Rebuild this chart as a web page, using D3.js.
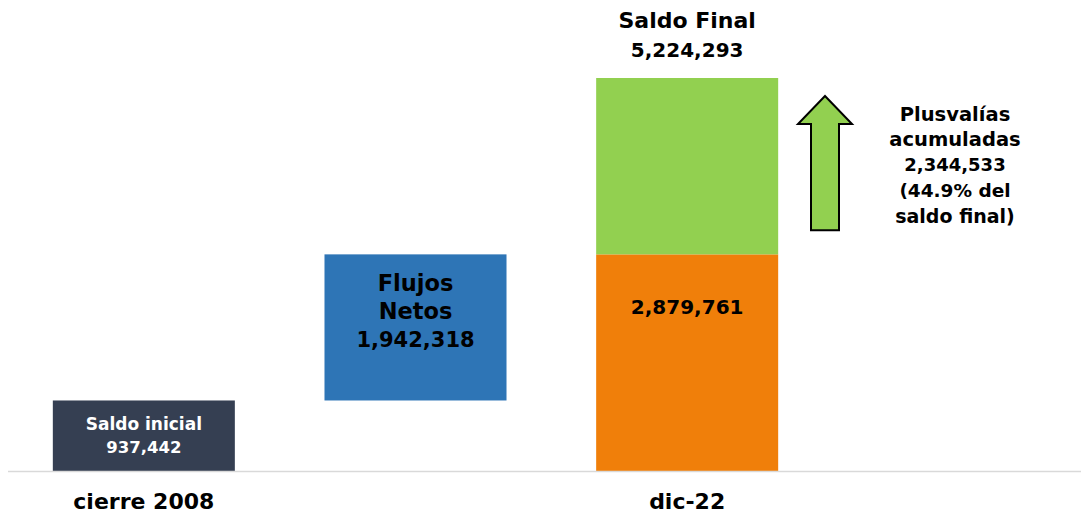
<!DOCTYPE html>
<html>
<head>
<meta charset="utf-8">
<script src="https://cdn.jsdelivr.net/npm/d3@7"></script>
<style>
  body { margin: 0; background: #fff; }
  text { font-family: "DejaVu Sans", "Open Sans", sans-serif; font-weight: bold; }
</style>
</head>
<body>
<svg id="chart" width="1083" height="516"></svg>
<script>
// data
var categories = ['cierre 2008', 'flujos', 'dic-22'];
var axisLabels = ['cierre 2008', '', 'dic-22'];
var saldoInicial = 937442;
var flujosNetos = 1942318;
var aportaciones = 2879761;
var plusvalias = 2344533;
var saldoFinal = 5224293;

var colors = {
  inicial: '#353f52',
  flujos: '#2e75b6',
  aport: '#f07f0a',
  plus: '#92d050'
};

var bars = [
  { cat: 'cierre 2008', y0: 0, y1: saldoInicial, color: colors.inicial },
  { cat: 'flujos', y0: saldoInicial, y1: saldoInicial + flujosNetos, color: colors.flujos },
  { cat: 'dic-22', y0: 0, y1: aportaciones, color: colors.aport },
  { cat: 'dic-22', y0: aportaciones, y1: saldoFinal, color: colors.plus }
];

var svg = d3.select('#chart');

var x = d3.scaleBand()
  .domain(categories)
  .range([8, 823])
  .paddingInner(0.33)
  .paddingOuter(0.165);

var y = d3.scaleLinear()
  .domain([0, saldoFinal])
  .range([471, 78]);

var fmt = d3.format(',');

svg.append('g')
  .selectAll('rect')
  .data(bars)
  .enter()
  .append('rect')
  .attr('x', function (d) { return x(d.cat); })
  .attr('width', x.bandwidth())
  .attr('y', function (d) { return y(d.y1); })
  .attr('height', function (d) { return y(d.y0) - y(d.y1); })
  .attr('fill', function (d) { return d.color; });

// baseline
svg.append('line')
  .attr('x1', 8).attr('x2', 1081)
  .attr('y1', y(0) + 0.5).attr('y2', y(0) + 0.5)
  .attr('stroke', '#d9d9d9')
  .attr('stroke-width', 1.5);

// category labels
svg.append('g')
  .selectAll('text')
  .data(categories)
  .enter()
  .append('text')
  .attr('x', function (d) { return x(d) + x.bandwidth() / 2; })
  .attr('y', 509)
  .attr('text-anchor', 'middle')
  .attr('font-size', 22)
  .attr('fill', '#000')
  .text(function (d, i) { return axisLabels[i]; });

// lines: [text, fontSize]
function multiline(cx, cy, lines, lh, fill) {
  var t = svg.append('text')
    .attr('text-anchor', 'middle')
    .attr('fill', fill);
  var top = cy - (lines.length - 1) * lh / 2;
  lines.forEach(function (l, i) {
    t.append('tspan')
      .attr('x', cx)
      .attr('y', top + i * lh)
      .attr('dy', '0.35em')
      .attr('font-size', l[1])
      .text(l[0]);
  });
}

var c1 = x('cierre 2008') + x.bandwidth() / 2,
    c2 = x('flujos') + x.bandwidth() / 2,
    c3 = x('dic-22') + x.bandwidth() / 2;

multiline(c1, (y(0) + y(saldoInicial)) / 2, [['Saldo inicial', 17], [fmt(saldoInicial), 16.5]], 23, '#fff');
multiline(c2, y(saldoInicial + flujosNetos) + 57, [['Flujos', 22.5], ['Netos', 22.5], [fmt(flujosNetos), 21]], 28, '#000');
multiline(c3, y(aportaciones) + 53, [[fmt(aportaciones), 20]], 28, '#000');
multiline(c3, y(saldoFinal) - 43, [['Saldo Final', 22], [fmt(saldoFinal), 20]], 29, '#000');

// arrow for plusvalias
var ax = 825,
    aTop = y(saldoFinal) + 18,
    aBot = y(aportaciones) - 24,
    headW = 27, shaftW = 14, headH = 28;
var arrow = d3.path();
arrow.moveTo(ax, aTop);
arrow.lineTo(ax + headW, aTop + headH);
arrow.lineTo(ax + shaftW, aTop + headH);
arrow.lineTo(ax + shaftW, aBot);
arrow.lineTo(ax - shaftW, aBot);
arrow.lineTo(ax - shaftW, aTop + headH);
arrow.lineTo(ax - headW, aTop + headH);
arrow.closePath();
svg.append('path')
  .attr('d', arrow.toString())
  .attr('fill', colors.plus)
  .attr('stroke', '#000')
  .attr('stroke-width', 2);

var pct = d3.format('.1f')(plusvalias / saldoFinal * 100);
multiline(955, 165, [
  ['Plusvalías', 19.5],
  ['acumuladas', 19.5],
  [fmt(plusvalias), 18],
  ['(' + pct + '% del', 18.5],
  ['saldo final)', 19]
], 25.5, '#000');
</script>
</body>
</html>
